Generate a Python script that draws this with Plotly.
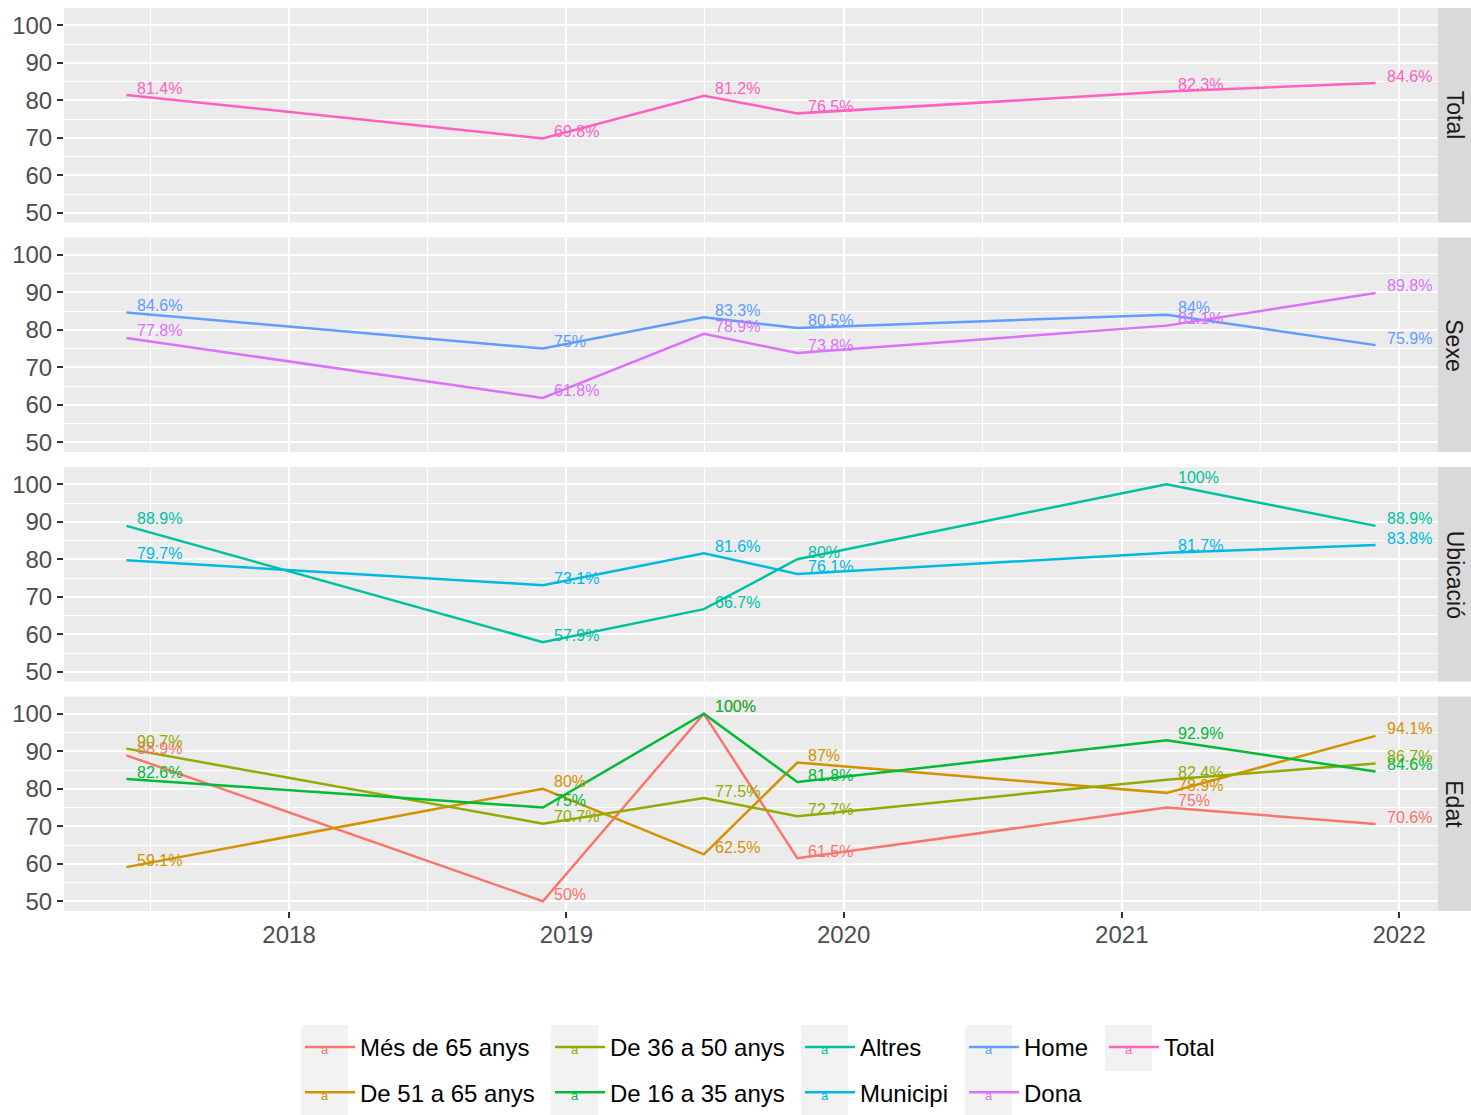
import pandas as pd
import plotly.graph_objects as go
from plotly.subplots import make_subplots

# ---------------- data ----------------
dates = ['2017-06-01', '2018-12-01', '2019-07-01', '2019-11-01', '2021-03-01', '2021-12-01']
facets = ['Total', 'Sexe', 'Ubicació', 'Edat']

mes_65 = [88.9, 50.0, 100.0, 61.5, 75.0, 70.6]
de_51_65 = [59.1, 80.0, 62.5, 87.0, 78.9, 94.1]
de_36_50 = [90.7, 70.7, 77.5, 72.7, 82.4, 86.7]
de_16_35 = [82.6, 75.0, 100.0, 81.8, 92.9, 84.6]
altres = [88.9, 57.9, 66.7, 80.0, 100.0, 88.9]
municipi = [79.7, 73.1, 81.6, 76.1, 81.7, 83.8]
home = [84.6, 75.0, 83.3, 80.5, 84.0, 75.9]
dona = [77.8, 61.8, 78.9, 73.8, 81.1, 89.8]
total = [81.4, 69.8, 81.2, 76.5, 82.3, 84.6]

series_names = ['Més de 65 anys', 'De 51 a 65 anys', 'De 36 a 50 anys', 'De 16 a 35 anys',
                'Altres', 'Municipi', 'Home', 'Dona', 'Total']
series_values = [mes_65, de_51_65, de_36_50, de_16_35, altres, municipi, home, dona, total]
series_facet = ['Edat', 'Edat', 'Edat', 'Edat', 'Ubicació', 'Ubicació', 'Sexe', 'Sexe', 'Total']
y_ticks = [50, 60, 70, 80, 90, 100]

# ---------------- style ----------------
colors = {
    'Més de 65 anys': '#F8766D', 'De 51 a 65 anys': '#D39200', 'De 36 a 50 anys': '#93AA00',
    'De 16 a 35 anys': '#00BA38', 'Altres': '#00C19F', 'Municipi': '#00B9E3',
    'Home': '#619CFF', 'Dona': '#DB72FB', 'Total': '#FF61C3'
}
legend_of = {
    'Més de 65 anys': 'legend', 'De 51 a 65 anys': 'legend',
    'De 36 a 50 anys': 'legend2', 'De 16 a 35 anys': 'legend2',
    'Altres': 'legend3', 'Municipi': 'legend3',
    'Home': 'legend4', 'Dona': 'legend4', 'Total': 'legend5'
}
FONT = 'Liberation Sans, Arial, Helvetica, sans-serif'
W, H = 1471, 1115
ML, MR, MT, MB = 64, 33, 8, 204
PW, PH = W - ML - MR, H - MT - MB


def px_x(px):
    return (px - ML) / PW


def px_y(py):
    return (H - MB - py) / PH


# axis ranges (ggplot-like 5% expansion)
d = pd.to_datetime(dates)
span = d.max() - d.min()
x_range = [d.min() - 0.05 * span, d.max() + 0.05 * span]
all_vals = [v for s in series_values for v in s]
lo, hi = min(all_vals), max(all_vals) + 2.0
y_range = [lo - 0.05 * (hi - lo), hi + 0.05 * (hi - lo)]

fig = make_subplots(rows=4, cols=1, shared_xaxes=True, vertical_spacing=15 / PH)

for name, vals, facet in zip(series_names, series_values, series_facet):
    row = facets.index(facet) + 1
    fig.add_trace(go.Scatter(
        x=dates, y=vals, mode='lines', name=name,
        line=dict(color=colors[name], width=2.5),
        legend=legend_of[name], legendgroup=name,
        hoverinfo='skip'), row=row, col=1)
    xr = 'x' if row == 1 else f'x{row}'
    yr = 'y' if row == 1 else f'y{row}'
    for xv, yv in zip(dates, vals):
        fig.add_annotation(
            x=xv, y=yv, xref=xr, yref=yr, text=f'{yv:g}%', showarrow=False,
            xanchor='left', yanchor='middle', xshift=9, yshift=7,
            font=dict(family=FONT, size=16, color=colors[name]))

for i, facet in enumerate(facets, start=1):
    yd = 'y domain' if i == 1 else f'y{i} domain'
    fig.add_shape(type='rect', xref='paper', yref=yd, x0=1, x1=1 + MR / PW, y0=0, y1=1,
                  fillcolor='#D9D9D9', line=dict(width=0), layer='below')
    fig.add_annotation(xref='paper', yref=yd, x=1 + (MR / 2) / PW, y=0.5, text=facet,
                       textangle=90, showarrow=False, xanchor='center', yanchor='middle',
                       font=dict(family=FONT, size=23, color='#1A1A1A'))
    fig.update_yaxes(row=i, col=1, range=y_range, tickvals=y_ticks, ticks='outside', ticklen=6,
                     tickwidth=2, tickcolor='#333333', showgrid=True, gridcolor='white', gridwidth=2,
                     zeroline=False, showline=False, ticklabelstandoff=0,
                     tickfont=dict(family=FONT, size=24, color='#4D4D4D'),
                     minor=dict(dtick=5, tick0=0, showgrid=True, gridcolor='white', gridwidth=1, ticks=''))
    fig.update_xaxes(row=i, col=1, range=x_range, type='date', dtick='M12', tick0='2018-01-01',
                     tickformat='%Y', showgrid=True, gridcolor='white', gridwidth=2, zeroline=False,
                     showline=False, ticks='outside' if i == 4 else '', ticklen=6, tickwidth=2,
                     tickcolor='#333333', showticklabels=(i == 4), ticklabelstandoff=-4,
                     tickfont=dict(family=FONT, size=24, color='#4D4D4D'),
                     minor=dict(dtick='M12', tick0='2017-07-02', showgrid=True, gridcolor='white',
                                gridwidth=1, ticks=''))

# legend key backgrounds and "a" glyphs
leg_cols = [(301, ['Més de 65 anys', 'De 51 a 65 anys']),
            (551, ['De 36 a 50 anys', 'De 16 a 35 anys']),
            (801, ['Altres', 'Municipi']),
            (965, ['Home', 'Dona']),
            (1105, ['Total'])]
row_top = 1025
row_h = 46
for x0, names in leg_cols:
    fig.add_shape(type='rect', xref='paper', yref='paper', x0=px_x(x0), x1=px_x(x0 + 47),
                  y0=px_y(row_top + row_h * len(names)), y1=px_y(row_top),
                  fillcolor='#F2F2F2', line=dict(width=0), layer='below')
    for k, nm in enumerate(names):
        fig.add_annotation(xref='paper', yref='paper', x=px_x(x0 + 23.5),
                           y=px_y(row_top + row_h * k + row_h / 2 + 1), text='a', showarrow=False,
                           xanchor='center', yanchor='middle',
                           font=dict(family=FONT, size=13, color=colors[nm]))

legend_common = dict(orientation='v', yanchor='top', xanchor='left', bgcolor='rgba(0,0,0,0)',
                     font=dict(family=FONT, size=24, color='#000000'), tracegroupgap=11,
                     itemwidth=50)
layout_legends = {}
for idx, (x0, names) in enumerate(leg_cols):
    key = 'legend' if idx == 0 else f'legend{idx + 1}'
    layout_legends[key] = dict(x=px_x(x0 - 1), y=px_y(row_top), **legend_common)

fig.update_layout(
    width=W, height=H, margin=dict(l=ML, r=MR, t=MT, b=MB, autoexpand=False),
    paper_bgcolor='white', plot_bgcolor='#EBEBEB',
    font=dict(family=FONT), showlegend=True, **layout_legends)

fig.write_html('out.html', config={'displayModeBar': False},
               post_script="document.body.style.margin='0';document.body.style.overflow='hidden';")
